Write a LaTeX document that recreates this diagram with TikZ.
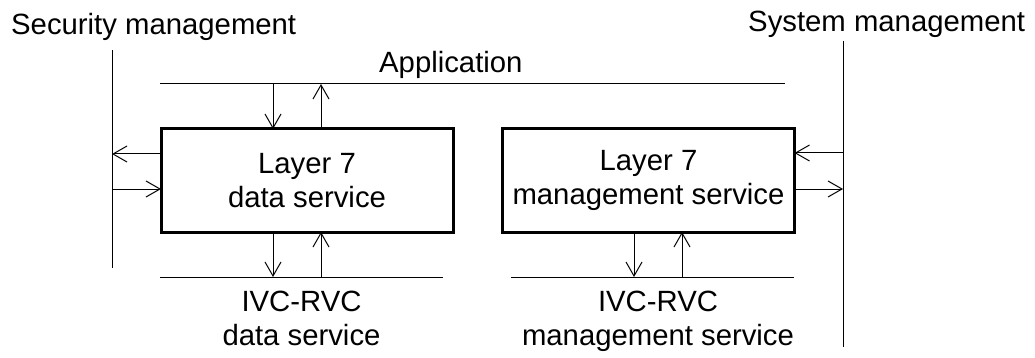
\documentclass[tikz,border=0pt]{standalone}
\usepackage{fontspec}
\setmainfont{Liberation Sans}
\usetikzlibrary{arrows.meta}
\begin{document}
\begin{tikzpicture}[x=1pt,y=-1pt,
  lbl/.style={font=\fontsize{29.3}{34}\selectfont, inner sep=0pt, align=center},
  box/.style={draw, line width=3pt, minimum width=292pt, minimum height=103pt,
    inner sep=0pt, outer sep=0pt, font=\fontsize{29.3}{34}\selectfont, align=center},
  bus/.style={line width=1pt},
  arr/.style={line width=1pt, -{Straight Barb[length=14pt,width=16pt,line width=1pt]}}]
\useasboundingbox (0,0) rectangle (1035,358);

% boxes
\node[box] (d1) at (307,180.5) {Layer 7\\data service};
\node[box] (m1) at (648.5,180.5) {Layer 7\\management service};

% bus lines
\coordinate (secT) at (112,50);  \coordinate (secB) at (112,268);
\coordinate (sysT) at (843,41);  \coordinate (sysB) at (843,347);
\coordinate (appL) at (160,84);  \coordinate (appR) at (785,84);
\coordinate (b1L) at (160,277);  \coordinate (b1R) at (443,277);
\coordinate (b2L) at (511,277);  \coordinate (b2R) at (794,277);
\draw[bus] (secT) -- (secB);
\draw[bus] (sysT) -- (sysB);
\draw[bus] (appL) -- (appR);
\draw[bus] (b1L) -- (b1R);
\draw[bus] (b2L) -- (b2R);

% labels
\node[lbl, anchor=base west] (sec) at (11,35) {Security management};
\node[lbl, anchor=base west] (sys) at (748,32) {System management};
\node[lbl, anchor=base west] (app) at (379,73) {Application};
\node[lbl, anchor=base] (ivc1) at (301.5,345) {IVC-RVC\\data service};
\node[lbl, anchor=base] (ivc2) at (658,345) {IVC-RVC\\management service};

% arrow positions
\coordinate (xa) at (273,0); \coordinate (xb) at (321,0);
\coordinate (xc) at (634,0); \coordinate (xd) at (682,0);
\coordinate (ya) at (0,154); \coordinate (yb) at (0,189);
\coordinate (yc) at (0,153); \coordinate (yd) at (0,189);

% top arrows
\draw[arr] (xa |- appL) -- (xa |- d1.north);
\draw[arr] (xb |- d1.north) -- (xb |- appL);
% bottom arrows box 1
\draw[arr] (xa |- d1.south) -- (xa |- b1L);
\draw[arr] (xb |- b1L) -- (xb |- d1.south);
% bottom arrows box 2
\draw[arr] (xc |- m1.south) -- (xc |- b2L);
\draw[arr] (xd |- b2L) -- (xd |- m1.south);
% left arrows
\draw[arr] (d1.west |- ya) -- (secT |- ya);
\draw[arr] (secT |- yb) -- (d1.west |- yb);
% right arrows
\draw[arr] (sysT |- yc) -- (m1.east |- yc);
\draw[arr] (m1.east |- yd) -- (sysT |- yd);
\end{tikzpicture}
\end{document}
